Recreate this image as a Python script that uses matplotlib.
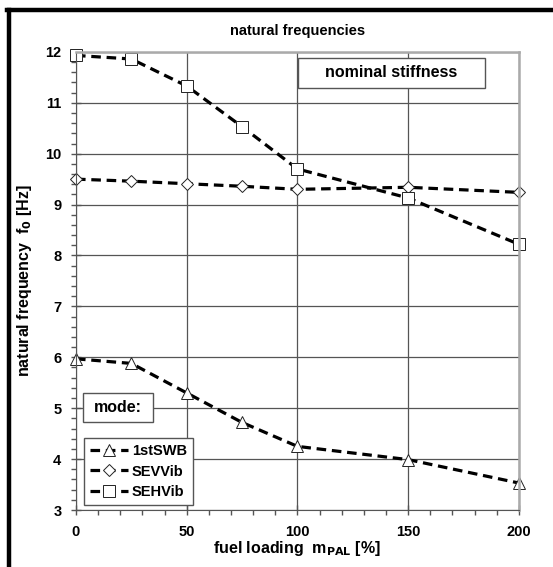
import numpy as np
import matplotlib.pyplot as plt
from matplotlib.patches import Rectangle
from matplotlib.ticker import MultipleLocator

plt.rcParams['font.family'] = ['Liberation Sans', 'DejaVu Sans']
plt.rcParams['font.weight'] = 'bold'

# fuel loading [%]
fuel = [0, 25, 50, 75, 100, 150, 200]
# natural frequencies [Hz]
swb = [5.97, 5.88, 5.30, 4.72, 4.25, 3.99, 3.53]
sevvib = [9.50, 9.46, 9.41, 9.36, 9.30, 9.34, 9.24]
sehvib = [11.93, 11.86, 11.33, 10.53, 9.70, 9.13, 8.22]

fig = plt.figure(figsize=(5.53, 5.67), dpi=100)
ax = fig.add_axes([0.1374, 0.1005, 0.801, 0.808])

line_kw = dict(color='black', lw=2.3, ls=(0, (3, 1.8)), mfc='white', mec='#222222', mew=0.7, clip_on=False)
ax.plot(fuel, swb, marker='^', ms=8.5, label='1stSWB', **line_kw)
ax.plot(fuel, sevvib, marker='D', ms=6.5, label='SEVVib', **line_kw)
ax.plot(fuel, sehvib, marker='s', ms=8.5, label='SEHVib', **line_kw)

ax.set_xlim(0, 200)
ax.set_ylim(3, 12)
ax.xaxis.set_major_locator(MultipleLocator(50))
ax.xaxis.set_minor_locator(MultipleLocator(10))
ax.yaxis.set_major_locator(MultipleLocator(1))
ax.yaxis.set_minor_locator(MultipleLocator(0.2))
ax.grid(True, which='major', color='#555555', lw=0.9)
ax.set_axisbelow(True)
ax.tick_params(which='major', direction='inout', length=7, width=1, color='#555555', labelsize=10.5, pad=7)
ax.tick_params(which='minor', direction='out', length=3.5, width=1, color='#555555')
for s in ['left', 'bottom']:
    ax.spines[s].set_color('#555555')
for s in ['top', 'right']:
    ax.spines[s].set_color('#aaaaaa')
    ax.spines[s].set_linewidth(1.8)

ax.set_title('natural frequencies', fontsize=10.5, fontweight='bold', pad=12)
ax.set_xlabel('fuel loading  m$_{\\mathbf{PAL}}$ [%]', fontsize=11.5, fontweight='bold', labelpad=0)
ax.set_ylabel('natural frequency  f$_{\\mathbf{0}}$ [Hz]', fontsize=11.5, fontweight='bold', labelpad=8)

# nominal stiffness box
ax.add_patch(Rectangle((0.501, 0.921), 0.422, 0.066, transform=ax.transAxes,
                       fc='white', ec='#555555', lw=1, zorder=5))
ax.text(0.712, 0.954, 'nominal stiffness', transform=ax.transAxes, ha='center', va='center',
        fontsize=11.5, fontweight='bold', zorder=6)

# mode: box
ax.add_patch(Rectangle((0.016, 0.192), 0.158, 0.063, transform=ax.transAxes,
                       fc='white', ec='#555555', lw=1, zorder=5))
ax.text(0.095, 0.2235, 'mode:', transform=ax.transAxes, ha='center', va='center',
        fontsize=11.5, fontweight='bold', zorder=6)

leg = ax.legend(loc='lower left', bbox_to_anchor=(0.018, 0.011), fontsize=10.5,
                handlelength=2.6, handletextpad=0.3, borderpad=0.4, labelspacing=0.45,
                fancybox=False, framealpha=1, edgecolor='#555555', borderaxespad=0)
leg.get_frame().set_linewidth(1)
leg.set_zorder(6)

# black frame on left and top of the figure
fig.add_artist(plt.Line2D([9 / 553, 9 / 553], [0, 1 - 10 / 567], color='black', lw=3.2))
fig.add_artist(plt.Line2D([7.4 / 553, 1], [1 - 10 / 567, 1 - 10 / 567], color='black', lw=3.2))

fig.savefig('out.png', dpi=100)
